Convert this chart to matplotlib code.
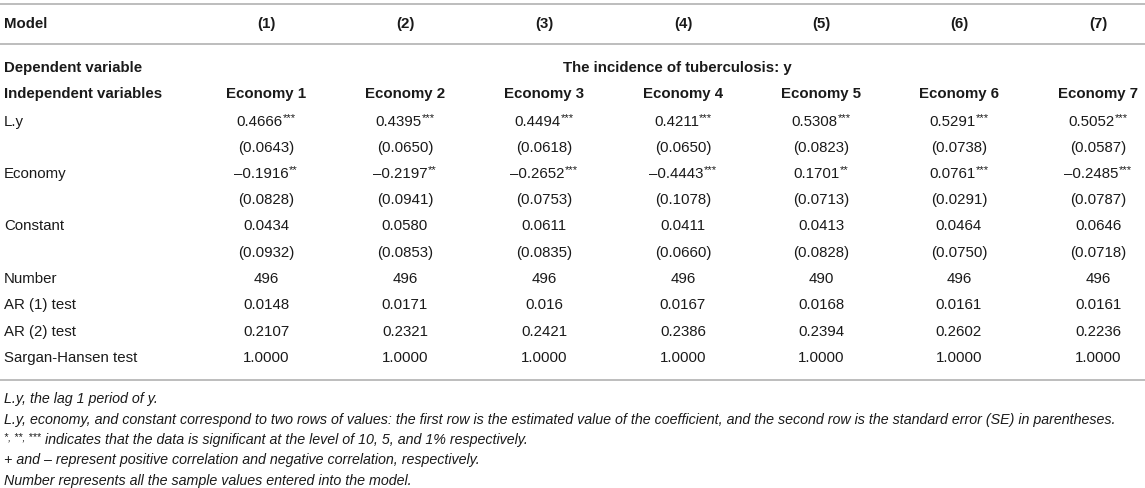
import matplotlib
matplotlib.use("Agg")
import matplotlib.pyplot as plt

plt.rcParams['font.family'] = ['Liberation Sans', 'DejaVu Sans']

# table content
models = ["(1)", "(2)", "(3)", "(4)", "(5)", "(6)", "(7)"]
economies = ["Economy 1", "Economy 2", "Economy 3", "Economy 4", "Economy 5", "Economy 6", "Economy 7"]
dep_var = "The incidence of tuberculosis: y"

ly_coef = [0.4666, 0.4395, 0.4494, 0.4211, 0.5308, 0.5291, 0.5052]
ly_stars = ["***", "***", "***", "***", "***", "***", "***"]
ly_se = [0.0643, 0.0650, 0.0618, 0.0650, 0.0823, 0.0738, 0.0587]
econ_coef = [-0.1916, -0.2197, -0.2652, -0.4443, 0.1701, 0.0761, -0.2485]
econ_stars = ["**", "**", "***", "***", "**", "***", "***"]
econ_se = [0.0828, 0.0941, 0.0753, 0.1078, 0.0713, 0.0291, 0.0787]
const_coef = [0.0434, 0.0580, 0.0611, 0.0411, 0.0413, 0.0464, 0.0646]
const_se = [0.0932, 0.0853, 0.0835, 0.0660, 0.0828, 0.0750, 0.0718]
number = [496, 496, 496, 496, 490, 496, 496]
ar1 = ["0.0148", "0.0171", "0.016", "0.0167", "0.0168", "0.0161", "0.0161"]
ar2 = [0.2107, 0.2321, 0.2421, 0.2386, 0.2394, 0.2602, 0.2236]
sargan = [1.0, 1.0, 1.0, 1.0, 1.0, 1.0, 1.0]

notes = [
    "L.y, the lag 1 period of y.",
    "L.y, economy, and constant correspond to two rows of values: the first row is the estimated value of the coefficient, and the second row is the standard error (SE) in parentheses.",
    "*, **, *** indicates that the data is significant at the level of 10, 5, and 1% respectively.",
    "+ and \u2013 represent positive correlation and negative correlation, respectively.",
    "Number represents all the sample values entered into the model.",
]


def fmt(v):
    s = f"{abs(v):.4f}"
    return ("\u2013" + s) if v < 0 else s


W, H = 1145, 488
fig = plt.figure(figsize=(W / 100, H / 100), dpi=100)
ax = fig.add_axes([0, 0, 1, 1])
ax.set_xlim(0, W)
ax.set_ylim(H, 0)
ax.axis("off")

col_x = [266, 405, 544, 683, 821, 959, 1098]
left_x = 4
fs = 10.8
fs_note = 10.25
txt_col = "#1a1a1a"
line_col = "#b8b8b8"

# rules
for yy in [4, 44, 380]:
    ax.axhline(yy, color=line_col, lw=1.3)

# header
ax.text(left_x, 24, "Model", fontsize=fs, fontweight="bold", va="center", color=txt_col)
for x, m in zip(col_x, models):
    ax.text(x, 24, m, fontsize=fs, fontweight="bold", va="center", ha="center", color=txt_col)

ax.text(left_x, 68, "Dependent variable", fontsize=fs, fontweight="bold", va="center", color=txt_col)
ax.text((col_x[0] + col_x[-1]) / 2 - 5, 68, dep_var, fontsize=fs, fontweight="bold",
        va="center", ha="center", color=txt_col)
ax.text(left_x, 94, "Independent variables", fontsize=fs, fontweight="bold", va="center", color=txt_col)
for x, e in zip(col_x, economies):
    ax.text(x, 94, e, fontsize=fs, fontweight="bold", va="center", ha="center", color=txt_col)

row_y = [122, 148, 174, 200, 226, 253, 279, 305, 332, 358]
labels = ["L.y", "", "Economy", "", "Constant", "", "Number", "AR (1) test", "AR (2) test", "Sargan-Hansen test"]
rows = [
    [(fmt(v), s) for v, s in zip(ly_coef, ly_stars)],
    [(f"({v:.4f})", "") for v in ly_se],
    [(fmt(v), s) for v, s in zip(econ_coef, econ_stars)],
    [(f"({v:.4f})", "") for v in econ_se],
    [(fmt(v), "") for v in const_coef],
    [(f"({v:.4f})", "") for v in const_se],
    [(str(v), "") for v in number],
    [(v, "") for v in ar1],
    [(f"{v:.4f}", "") for v in ar2],
    [(f"{v:.4f}", "") for v in sargan],
]

fig.canvas.draw()
renderer = fig.canvas.get_renderer()


def width_px(t):
    return t.get_window_extent(renderer).width


for y, lab, cells in zip(row_y, labels, rows):
    if lab:
        ax.text(left_x, y, lab, fontsize=fs, va="center", color=txt_col)
    for x, (val, st) in zip(col_x, cells):
        if not st:
            ax.text(x, y, val, fontsize=fs, va="center", ha="center", color=txt_col)
            continue
        t1 = ax.text(0, y, val, fontsize=fs, va="center", ha="left", color=txt_col)
        t2 = ax.text(0, y - 4, st, fontsize=fs * 0.75, va="center", ha="left", color=txt_col)
        w1 = width_px(t1)
        w2 = width_px(t2)
        start = x - (w1 + w2) / 2
        t1.set_x(start)
        t2.set_x(start + w1)

# footnotes
note_y = [399, 420, 440, 460, 481]
for y, n in zip(note_y, notes):
    if n.startswith("*"):
        stars = "*, **, ***"
        s = ax.text(left_x, y - 3, stars, fontsize=fs_note * 0.75, style="italic", va="center", color=txt_col)
        t = ax.text(0, y, n[len(stars):], fontsize=fs_note, style="italic", va="center", color=txt_col)
        t.set_x(left_x + width_px(s))
    else:
        ax.text(left_x, y, n, fontsize=fs_note, style="italic", va="center", color=txt_col)

fig.savefig("out.png", dpi=100)
